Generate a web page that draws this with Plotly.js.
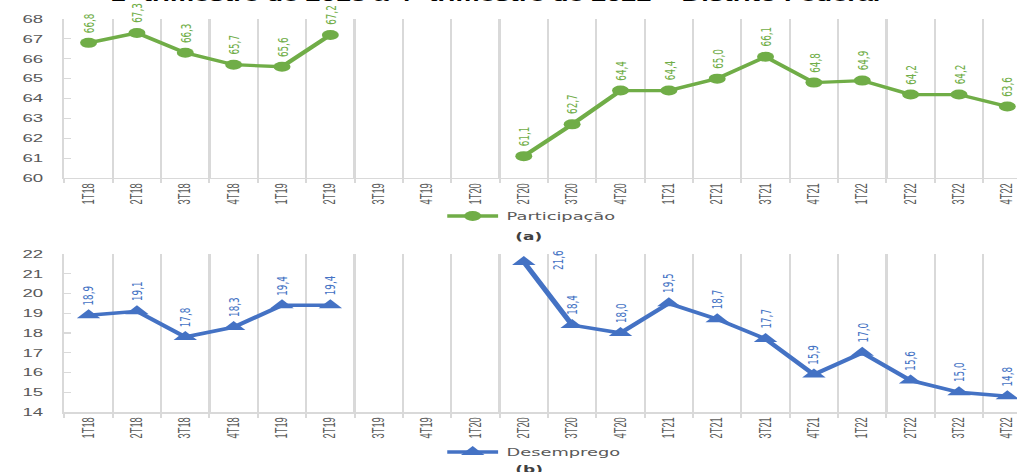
<!DOCTYPE html>
<html>
<head>
<meta charset="utf-8">
<script src="https://cdn.plot.ly/plotly-3.0.1.min.js"></script>
<style>
  html, body { margin: 0; padding: 0; background: #ffffff; overflow: hidden; }
  #wrap { width: 1017px; height: 472px; overflow: hidden; }
  #chart { width: 600px; height: 472px; transform: scaleX(1.695); transform-origin: 0 0; }
</style>
</head>
<body>
<div id="wrap"><div id="chart"></div></div>
<script>
const categories = ["1T18","2T18","3T18","4T18","1T19","2T19","3T19","4T19","1T20","2T20",
                    "3T20","4T20","1T21","2T21","3T21","4T21","1T22","2T22","3T22","4T22"];
const participacao = [66.8, 67.3, 66.3, 65.7, 65.6, 67.2, null, null, null, 61.1,
                      62.7, 64.4, 64.4, 65.0, 66.1, 64.8, 64.9, 64.2, 64.2, 63.6];
const desemprego = [18.9, 19.1, 17.8, 18.3, 19.4, 19.4, null, null, null, 21.6,
                    18.4, 18.0, 19.5, 18.7, 17.7, 15.9, 17.0, 15.6, 15.0, 14.8];
const yTicksTop = [60, 61, 62, 63, 64, 65, 66, 67, 68];
const yTicksBottom = [14, 15, 16, 17, 18, 19, 20, 21, 22];
const titleText = "1º trimestre de 2018 a 4º trimestre de 2022 – Distrito Federal";

const GREEN = "#70ad47", BLUE = "#4472c4", GRID = "#d9d9d9", TXT = "#595959";
const fmt = v => v.toFixed(1).replace(".", ",");

const traces = [
  {
    x: categories, y: participacao, type: "scatter", mode: "lines+markers",
    name: "Participação", xaxis: "x", yaxis: "y", connectgaps: false,
    line: { color: GREEN, width: 3.3 },
    marker: { symbol: "circle", size: 10, color: GREEN },
    legend: "legend"
  },
  {
    x: categories, y: desemprego, type: "scatter", mode: "lines+markers",
    name: "Desemprego", xaxis: "x2", yaxis: "y2", connectgaps: false,
    line: { color: BLUE, width: 3.5 },
    marker: { symbol: "triangle-up", size: 12, color: BLUE },
    legend: "legend2"
  }
];

const annotations = [];
function addLabels(vals, xr, yr, color, sideThreshold) {
  vals.forEach((v, i) => {
    if (v === null) return;
    const side = sideThreshold !== null && v >= sideThreshold;
    annotations.push({
      xref: xr, yref: yr, x: categories[i], y: v, text: fmt(v),
      textangle: -90, showarrow: false,
      xanchor: "center", yanchor: side ? "middle" : "bottom",
      xshift: side ? 20 : 0, yshift: side ? 2 : 8,
      font: { family: "DejaVu Sans, sans-serif", size: 8.8, color: color }
    });
  });
}
addLabels(participacao, "x", "y", GREEN, null);
addLabels(desemprego, "x2", "y2", BLUE, 21);

annotations.push({
  xref: "paper", yref: "paper", x: 0.453, y: 0.9865, xanchor: "center", yanchor: "bottom",
  text: "<b>" + titleText + "</b>", showarrow: false,
  font: { family: "Liberation Sans, Arial, sans-serif", size: 16, color: "#000000" }
});
annotations.push({
  xref: "paper", yref: "paper", x: 0.4877, y: 0.5, xanchor: "center", yanchor: "middle",
  text: "<b>(a)</b>", showarrow: false,
  font: { family: "DejaVu Sans, sans-serif", size: 10, color: "#404040" }
});
annotations.push({
  xref: "paper", yref: "paper", x: 0.4877, y: 0.006, xanchor: "center", yanchor: "middle",
  text: "<b>(b)</b>", showarrow: false,
  font: { family: "DejaVu Sans, sans-serif", size: 10, color: "#404040" }
});

function xAxis(anchor) {
  return {
    anchor: anchor, type: "category", range: [-0.5, 19.2], automargin: false,
    tickson: "boundaries", ticks: "outside", ticklen: 4, tickwidth: 1.2, tickcolor: GRID,
    showgrid: true, gridcolor: GRID, gridwidth: 1.3,
    showline: true, linecolor: GRID, linewidth: 1.5,
    tickangle: -90, tickfont: { family: "Liberation Sans, Arial, sans-serif", size: 9.3, color: TXT },
    zeroline: false, fixedrange: true
  };
}
function yAxis(anchor, domain, ticks) {
  return {
    anchor: anchor, domain: domain, range: [ticks[0], ticks[ticks.length - 1]],
    tickvals: ticks, ticktext: ticks.map(String), automargin: false,
    ticks: "inside", ticklen: 4, tickwidth: 1.2, tickcolor: GRID, ticklabelstandoff: 9,
    showgrid: false, showline: true, linecolor: GRID, linewidth: 1.3, zeroline: false,
    tickfont: { family: "Liberation Sans, Arial, sans-serif", size: 11, color: TXT },
    fixedrange: true
  };
}

const layout = {
  width: 600, height: 472,
  margin: { l: 37.8, r: 0, t: 0, b: 0, pad: 0 },
  paper_bgcolor: "#ffffff", plot_bgcolor: "#ffffff",
  showlegend: true,
  xaxis: xAxis("y"),
  yaxis: yAxis("x", [0.6229, 0.9597], yTicksTop),
  xaxis2: xAxis("y2"),
  yaxis2: yAxis("x2", [0.1271, 0.4619], yTicksBottom),
  legend: {
    orientation: "h", x: 0.393, y: 0.5424, xanchor: "left", yanchor: "middle",
    bgcolor: "rgba(0,0,0,0)", font: { family: "DejaVu Sans, sans-serif", size: 10.5, color: TXT }
  },
  legend2: {
    orientation: "h", x: 0.393, y: 0.0424, xanchor: "left", yanchor: "middle",
    bgcolor: "rgba(0,0,0,0)", font: { family: "DejaVu Sans, sans-serif", size: 10.5, color: TXT }
  },
  annotations: annotations
};

Plotly.newPlot("chart", traces, layout, { displayModeBar: false, staticPlot: true });
</script>
</body>
</html>
